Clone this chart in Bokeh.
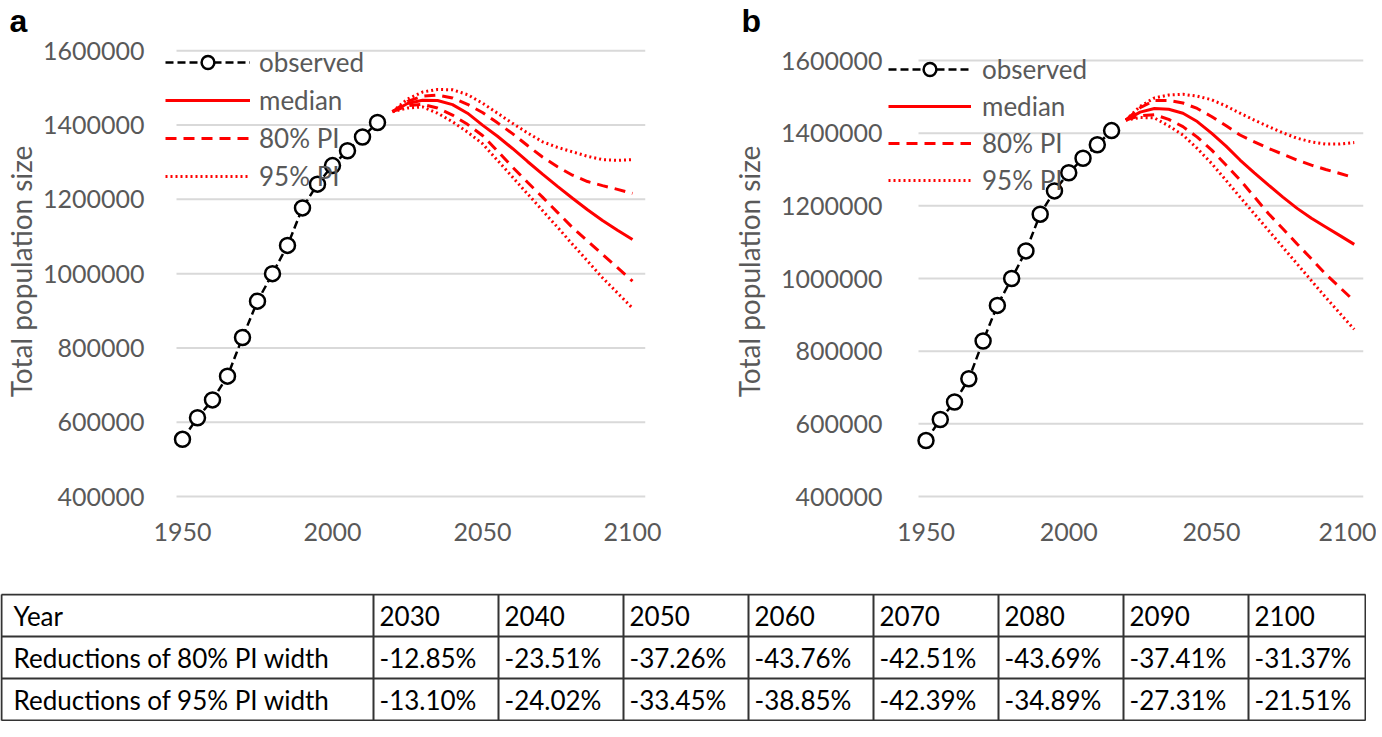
from bokeh.plotting import figure
from bokeh.models import (Range1d, FixedTicker, PrintfTickFormatter, Legend,
                          LegendItem)
from bokeh.layouts import column, row
from bokeh.embed import file_html
from bokeh.resources import INLINE
from bokeh.core.properties import value

# ---------------- data ----------------
obs_years = [1950, 1955, 1960, 1965, 1970, 1975, 1980, 1985, 1990, 1995,
             2000, 2005, 2010, 2015]
obs_pop = [554000, 612000, 660000, 724000, 828000, 926000, 1000000, 1076000,
           1177000, 1241000, 1291000, 1331000, 1368000, 1407000]

proj_years = [2020, 2025, 2030, 2035, 2040, 2045, 2050, 2055, 2060, 2065,
              2070, 2075, 2080, 2085, 2090, 2095, 2100]

median_a = [1436000, 1458000, 1467000, 1466000, 1455000, 1432000, 1400000,
            1370000, 1337000, 1302000, 1268000, 1235000, 1203000, 1172000,
            1143000, 1117000, 1092000]
upper80_a = [1436000, 1464000, 1478000, 1481000, 1473000, 1456000, 1434000,
             1406000, 1377000, 1345000, 1314000, 1288000, 1265000, 1248000,
             1237000, 1227000, 1216000]
lower80_a = [1436000, 1452000, 1456000, 1446000, 1427000, 1402000, 1372000,
             1330000, 1287000, 1246000, 1206000, 1165000, 1124000, 1088000,
             1052000, 1016000, 980000]
upper95_a = [1436000, 1470000, 1489000, 1496000, 1495000, 1482000, 1459000,
             1432000, 1405000, 1379000, 1355000, 1340000, 1328000, 1316000,
             1307000, 1305000, 1307000]
lower95_a = [1436000, 1446000, 1449000, 1432000, 1409000, 1381000, 1350000,
             1305000, 1260000, 1215000, 1170000, 1125000, 1079000, 1034000,
             989000, 948000, 907000]

median_b = [1436000, 1458000, 1468000, 1466000, 1455000, 1432000, 1400000,
            1365000, 1326000, 1291000, 1257000, 1224000, 1193000, 1166000,
            1142000, 1118000, 1094000]
upper80_b = [1436000, 1470000, 1490000, 1490000, 1483000, 1468000, 1446000,
             1421000, 1395000, 1376000, 1358000, 1342000, 1326000, 1312000,
             1300000, 1289000, 1277000]
lower80_b = [1436000, 1448000, 1451000, 1438000, 1418000, 1389000, 1354000,
             1313000, 1271000, 1225000, 1178000, 1137000, 1095000, 1054000,
             1012000, 975000, 938000]
upper95_b = [1436000, 1474000, 1497000, 1505000, 1507000, 1502000, 1492000,
             1475000, 1455000, 1436000, 1418000, 1401000, 1386000, 1376000,
             1370000, 1370000, 1374000]
lower95_b = [1436000, 1443000, 1442000, 1420000, 1395000, 1358000, 1317000,
             1271000, 1224000, 1178000, 1132000, 1086000, 1040000, 994000,
             948000, 904000, 860000]

y_ticks = [400000, 600000, 800000, 1000000, 1200000, 1400000, 1600000]
x_ticks = [1950, 2000, 2050, 2100]
legend_labels = ["observed", "median", "80% PI", "95% PI"]
y_title = "Total population size"

table_header = "Year"
table_years = ["2030", "2040", "2050", "2060", "2070", "2080", "2090", "2100"]
row80_label = "Reductions of 80% PI width"
row95_label = "Reductions of 95% PI width"
red80 = [-12.85, -23.51, -37.26, -43.76, -42.51, -43.69, -37.41, -31.37]
red95 = [-13.10, -24.02, -33.45, -38.85, -42.39, -34.89, -27.31, -21.51]

# ---------------- styles / geometry ----------------
FONT = "Lato"
GREY_TXT = "#595959"
GRID = "#d9d9d9"
RED = "#ff0000"
FIG_H = 586
MBT = 36          # top border (frame top at page y = 44)
FH = 456          # frame height (frame bottom at page y = 500)
MBB = FIG_H - MBT - FH
TABLE_H = 128


def make_panel(letter, med, u80, l80, u95, l95, x0, x1, grid_x0, y0, y1,
               fw, mbl, mbr, tick_sd, lab_sd, leg_loc, glyph_w, leg_sd,
               leg_spacing, letter_offset):
    p = figure(frame_width=fw, frame_height=FH, output_backend="svg",
               toolbar_location=None, x_range=Range1d(x0, x1),
               y_range=Range1d(y0, y1),
               min_border_left=mbl, min_border_right=mbr,
               min_border_top=MBT, min_border_bottom=MBB)
    p.outline_line_color = None
    p.background_fill_color = "white"
    p.border_fill_color = "white"
    p.grid.visible = False

    # panel letter as title
    p.title.text = letter
    p.title.text_font = "Liberation Sans"
    p.title.text_font_size = "32px"
    p.title.text_font_style = "bold"
    p.title.text_color = "black"
    p.title.align = "left"
    p.title.vertical_align = "top"
    p.title.offset = letter_offset
    p.title.standoff = 5

    p.yaxis.ticker = FixedTicker(ticks=y_ticks)
    p.xaxis.ticker = FixedTicker(ticks=x_ticks)
    p.yaxis.formatter = PrintfTickFormatter(format="%d")
    p.xaxis.formatter = PrintfTickFormatter(format="%d")
    for ax in (p.xaxis, p.yaxis):
        ax.axis_line_color = None
        ax.major_tick_line_color = None
        ax.minor_tick_line_color = None
        ax.major_label_text_font = FONT
        ax.major_label_text_font_size = "25px"
        ax.major_label_text_color = GREY_TXT
    p.yaxis.major_label_standoff = tick_sd
    p.xaxis.major_label_standoff = 17
    p.yaxis.axis_label = y_title
    p.yaxis.axis_label_text_font = FONT
    p.yaxis.axis_label_text_font_size = "28px"
    p.yaxis.axis_label_text_font_style = "normal"
    p.yaxis.axis_label_text_color = GREY_TXT
    p.yaxis.axis_label_standoff = lab_sd

    # horizontal gridlines at the y ticks
    p.segment(x0=[grid_x0] * len(y_ticks), x1=[x1] * len(y_ticks),
              y0=y_ticks, y1=y_ticks, line_color=GRID, line_width=2)

    r95u = p.line(proj_years, u95, line_color=RED, line_width=3,
                  line_dash="2 3")
    p.line(proj_years, l95, line_color=RED, line_width=3, line_dash="2 3")
    r80u = p.line(proj_years, u80, line_color=RED, line_width=3,
                  line_dash="11 7")
    p.line(proj_years, l80, line_color=RED, line_width=3, line_dash="11 7")
    rmed = p.line(proj_years, med, line_color=RED, line_width=3)
    robs = p.line(obs_years, obs_pop, line_color="black", line_width=2.5,
                  line_dash="8 4")
    rcirc = p.scatter(obs_years, obs_pop, marker="circle", size=15,
                      fill_color="white", line_color="black", line_width=2.5)

    legend = Legend(items=[
        LegendItem(label=legend_labels[0], renderers=[robs, rcirc]),
        LegendItem(label=legend_labels[1], renderers=[rmed]),
        LegendItem(label=legend_labels[2], renderers=[r80u]),
        LegendItem(label=legend_labels[3], renderers=[r95u]),
    ], location=leg_loc, orientation="vertical")
    legend.border_line_color = None
    legend.background_fill_alpha = 0
    legend.padding = 0
    legend.margin = 0
    legend.spacing = leg_spacing
    legend.glyph_width = glyph_w
    legend.glyph_height = 32
    legend.label_height = 32
    legend.label_standoff = leg_sd
    legend.label_text_font = FONT
    legend.label_text_font_size = "26px"
    legend.label_text_color = GREY_TXT
    p.add_layout(legend, "center")
    return p


# panel a: frame page x 163..643, 3 px / year, 1950 at page x 180
ka = 3.0
xa0 = 1950 - 17 / ka
pya = 445.7 / 1200000.0          # px per person
pa = make_panel("a", median_a, upper80_a, lower80_a, upper95_a, lower95_a,
                xa0, xa0 + 480 / ka, 1950 - 6 / ka,
                400000 - 3 / pya, 400000 - 3 / pya + FH / pya,
                480, 155, 49, 15, 2, (0, 307), 85, 9, 6, -156)

# panel b: frame page x 886..1361, 2.855 px / year, 1950 at page x 923.5
kb = 2.855
xb0 = 1950 - 37.5 / kb
pyb = 436.0 / 1200000.0
pb = make_panel("b", median_b, upper80_b, lower80_b, upper95_b, lower95_b,
                xb0, xb0 + 475 / kb, 1950 - 7.5 / kb,
                400000 - 3 / pyb, 400000 - 3 / pyb + FH / pyb,
                475, 194, 13, 0, 12, (0, 303), 83, 11, 5, -147)

# ---------------- table ----------------
TW = 1366
tp = figure(width=TW, height=TABLE_H, output_backend="svg",
            toolbar_location=None,
            x_range=Range1d(0, TW), y_range=Range1d(0, TABLE_H),
            x_axis_location=None, y_axis_location=None, min_border=0)
tp.title.visible = False
tp.grid.visible = False
tp.outline_line_color = None

left, right = 1, TW - 1
first_w, col_w = 372, 125
col_edges = [left, left + first_w]
for i in range(len(table_years) - 1):
    col_edges.append(col_edges[-1] + col_w)
col_edges.append(right)
row_h = (TABLE_H - 2) / 3.0
row_edges = [TABLE_H - 1 - row_h * i for i in range(4)]

tp.segment(x0=col_edges, x1=col_edges, y0=[row_edges[-1]] * len(col_edges),
           y1=[row_edges[0]] * len(col_edges), line_color="#333333",
           line_width=2)
tp.segment(x0=[left] * 4, x1=[right] * 4, y0=row_edges, y1=row_edges,
           line_color="#333333", line_width=2)

rows = [[table_header] + table_years,
        [row80_label] + [f"{v:.2f}%" for v in red80],
        [row95_label] + [f"{v:.2f}%" for v in red95]]
tx, ty, tt = [], [], []
for r, cells in enumerate(rows):
    yc = (row_edges[r] + row_edges[r + 1]) / 2.0
    for c, txt in enumerate(cells):
        pad = 12 if c == 0 else 6
        tx.append(col_edges[c] + pad)
        ty.append(yc)
        tt.append(txt)
tp.text(x=tx, y=ty, text=tt, text_font=value(FONT), text_font_size="26px",
        text_color="black", text_baseline="middle", text_align="left")

layout = column(row(pa, pb), tp)
open("out.html", "w").write(file_html(layout, INLINE))
